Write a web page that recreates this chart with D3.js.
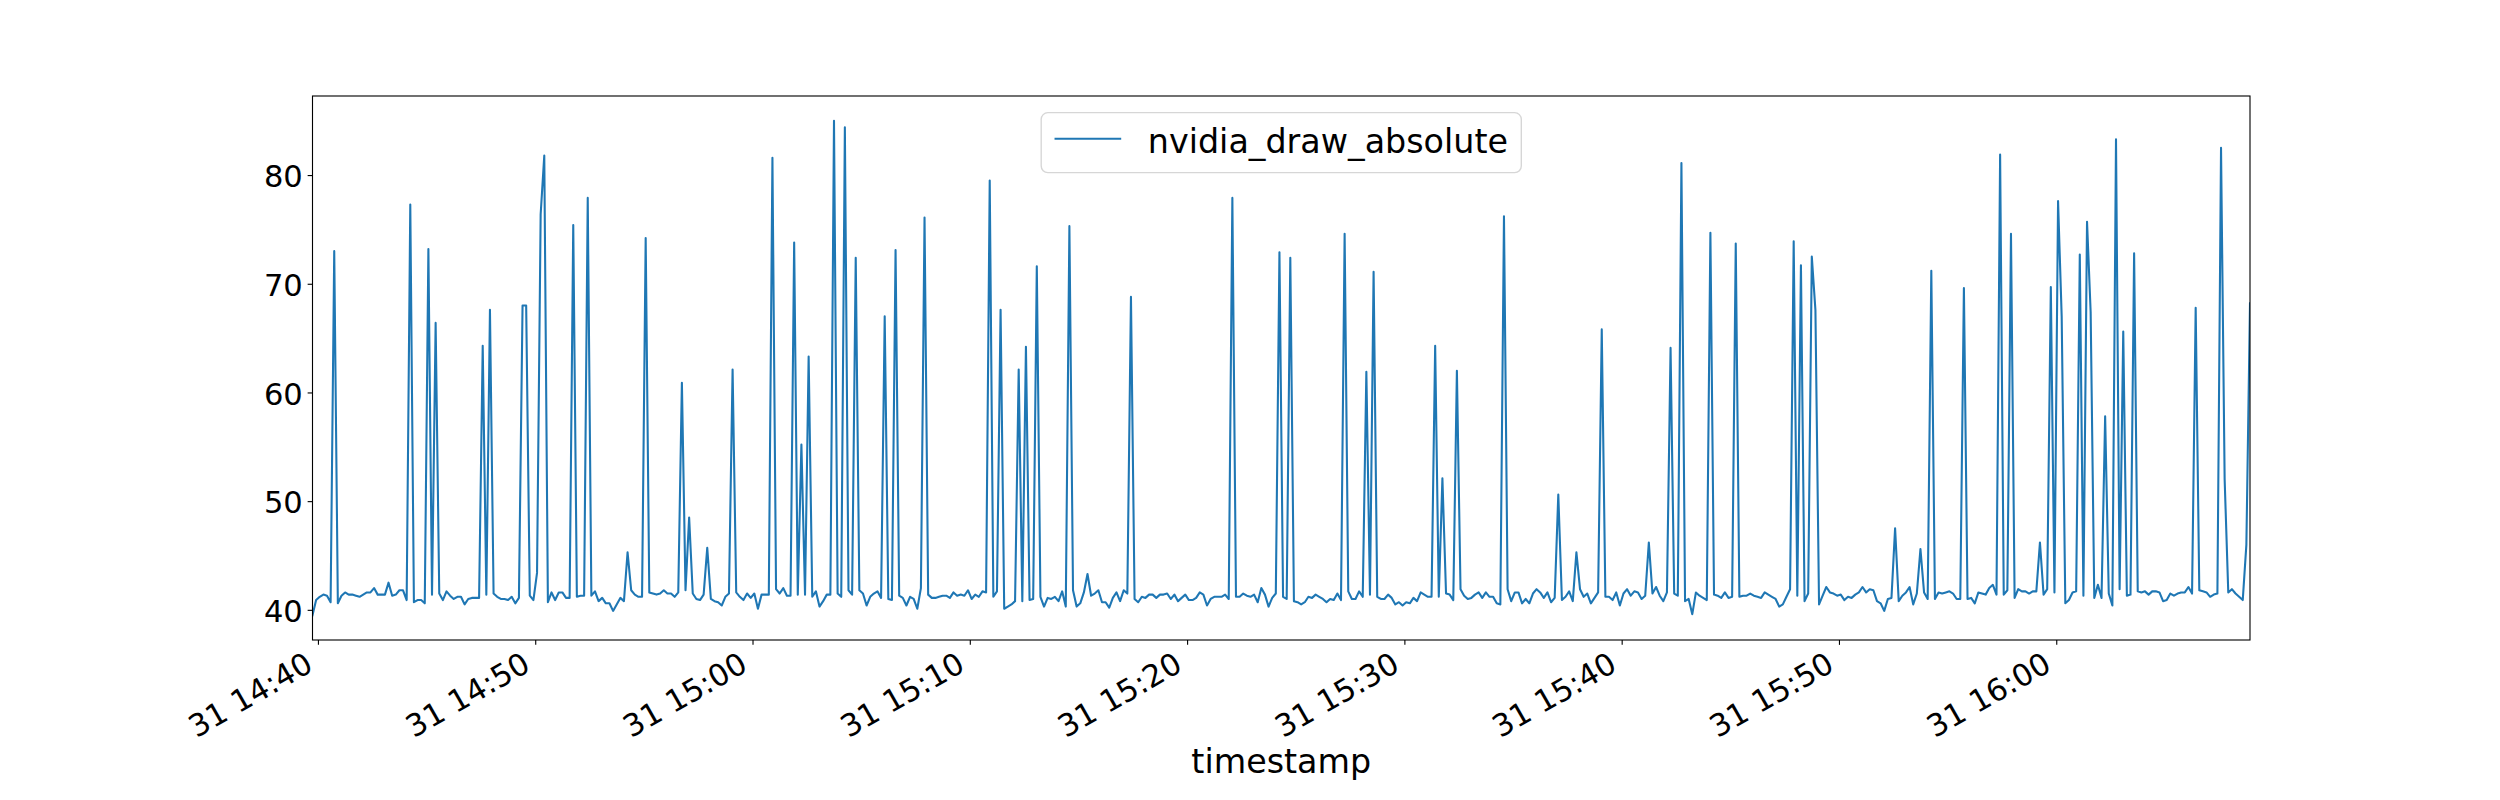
<!DOCTYPE html>
<html>
<head>
<meta charset="utf-8">
<script src="https://cdn.jsdelivr.net/npm/d3@7"></script>
<style>
  body { margin: 0; background: #ffffff; }
  svg { display: block; }
  text { font-family: "DejaVu Sans", sans-serif; fill: #000; }
</style>
</head>
<body>
<svg id="chart" width="2500" height="800"></svg>
<script>
// ---------------- data ----------------
const seriesName = "nvidia_draw_absolute";
const xLabelText = "timestamp";
const startTime = "2023-07-31T14:39:45Z";
const stepSeconds = 10;
const yTickValues = [40, 50, 60, 70, 80];
const xTickEveryMinutes = 10;
const xTickFormat = "%d %H:%M";

const values = [
  39.5, 40.9, 41.2, 41.4, 41.3, 40.7, 73.0, 40.6, 41.3, 41.6,
  41.4, 41.4, 41.3, 41.2, 41.4, 41.6, 41.6, 42.0, 41.4, 41.4,
  41.4, 42.5, 41.3, 41.4, 41.8, 41.8, 40.9, 77.3, 40.7, 40.9,
  40.9, 40.6, 73.2, 41.4, 66.4, 41.5, 40.9, 41.7, 41.3, 41.0,
  41.2, 41.2, 40.5, 41.0, 41.1, 41.1, 41.1, 64.3, 41.4, 67.6,
  41.5, 41.2, 41.0, 41.0, 40.9, 41.2, 40.6, 41.1, 68.0, 68.0,
  41.3, 40.9, 43.4, 76.4, 81.8, 40.7, 41.6, 40.9, 41.6, 41.6,
  41.1, 41.1, 75.4, 41.2, 41.3, 41.3, 77.9, 41.3, 41.7, 40.8,
  41.1, 40.6, 40.6, 39.9, 40.5, 41.1, 40.8, 45.3, 41.8, 41.4,
  41.2, 41.2, 74.2, 41.6, 41.5, 41.4, 41.5, 41.8, 41.5, 41.5,
  41.2, 41.6, 60.9, 41.8, 48.5, 41.5, 41.0, 40.9, 41.4, 45.7,
  41.0, 40.8, 40.7, 40.4, 41.2, 41.5, 62.1, 41.6, 41.2, 40.9,
  41.5, 41.1, 41.5, 40.1, 41.4, 41.4, 41.4, 81.6, 41.9, 41.5,
  42.0, 41.3, 41.3, 73.8, 41.4, 55.2, 41.4, 63.3, 41.2, 41.7,
  40.3, 40.8, 41.4, 41.4, 85.0, 41.5, 41.2, 84.4, 41.8, 41.4,
  72.4, 41.8, 41.5, 40.4, 41.2, 41.5, 41.7, 41.1, 67.0, 41.0,
  40.9, 73.1, 41.3, 41.1, 40.4, 41.2, 41.0, 40.1, 42.0, 76.1,
  41.4, 41.1, 41.1, 41.2, 41.3, 41.3, 41.1, 41.6, 41.3, 41.4,
  41.3, 41.8, 41.0, 41.4, 41.2, 41.7, 41.6, 79.5, 41.2, 41.7,
  67.6, 40.1, 40.3, 40.5, 40.8, 62.1, 40.8, 64.2, 40.9, 41.0,
  71.6, 41.2, 40.3, 41.1, 41.0, 41.2, 40.8, 41.7, 40.3, 75.3,
  41.8, 40.3, 40.6, 41.6, 43.3, 41.3, 41.5, 41.8, 40.7, 40.7,
  40.2, 41.1, 41.6, 40.8, 41.8, 41.5, 68.8, 41.0, 40.7, 41.2,
  41.1, 41.4, 41.4, 41.1, 41.4, 41.4, 41.5, 41.0, 41.4, 40.8,
  41.1, 41.4, 40.9, 40.9, 41.1, 41.6, 41.4, 40.4, 41.0, 41.2,
  41.2, 41.2, 41.4, 41.0, 77.9, 41.2, 41.2, 41.5, 41.3, 41.2,
  41.4, 40.7, 42.0, 41.4, 40.3, 41.1, 41.5, 72.9, 41.2, 41.0,
  72.4, 40.8, 40.7, 40.5, 40.7, 41.2, 41.1, 41.4, 41.2, 41.0,
  40.7, 41.0, 40.9, 41.5, 40.9, 74.6, 41.7, 41.0, 41.0, 41.7,
  41.2, 61.9, 41.4, 71.1, 41.2, 41.0, 41.0, 41.4, 41.1, 40.5,
  40.7, 40.4, 40.7, 40.6, 41.1, 40.8, 41.6, 41.4, 41.2, 41.2,
  64.3, 41.2, 52.1, 41.5, 41.4, 40.9, 62.0, 41.9, 41.3, 41.0,
  41.1, 41.4, 41.6, 41.1, 41.6, 41.2, 41.2, 40.6, 40.5, 76.2,
  41.9, 40.8, 41.6, 41.6, 40.6, 41.0, 40.6, 41.5, 41.9, 41.6,
  41.1, 41.6, 40.7, 41.1, 50.6, 40.9, 41.2, 41.7, 40.8, 45.3,
  41.9, 41.2, 41.5, 40.6, 41.1, 41.6, 65.8, 41.2, 41.2, 40.9,
  41.6, 40.4, 41.5, 41.9, 41.3, 41.7, 41.6, 41.0, 41.3, 46.2,
  41.5, 42.1, 41.3, 40.8, 41.6, 64.1, 41.5, 41.3, 81.1, 40.8,
  41.0, 39.6, 41.6, 41.3, 41.1, 40.9, 74.7, 41.4, 41.3, 41.1,
  41.6, 41.1, 41.2, 73.7, 41.2, 41.3, 41.3, 41.5, 41.3, 41.2,
  41.1, 41.6, 41.4, 41.2, 41.0, 40.3, 40.5, 41.2, 41.9, 73.9,
  41.3, 71.7, 40.8, 41.5, 72.5, 67.6, 40.5, 41.3, 42.1, 41.6,
  41.5, 41.3, 41.4, 40.9, 41.2, 41.1, 41.4, 41.6, 42.1, 41.6,
  41.9, 41.8, 40.8, 40.6, 39.9, 41.0, 41.1, 47.5, 40.8, 41.3,
  41.6, 42.1, 40.5, 41.5, 45.6, 41.6, 41.0, 71.2, 41.0, 41.6,
  41.5, 41.6, 41.7, 41.5, 41.0, 41.0, 69.6, 41.0, 41.1, 40.6,
  41.6, 41.5, 41.4, 42.0, 42.3, 41.4, 81.9, 41.4, 41.8, 74.6,
  41.1, 41.9, 41.7, 41.7, 41.5, 41.7, 41.7, 46.2, 41.4, 41.9,
  69.7, 41.6, 77.6, 67.0, 40.6, 40.9, 41.6, 41.7, 72.7, 41.3,
  75.7, 67.4, 41.1, 42.3, 41.1, 57.8, 41.5, 40.4, 83.3, 41.9,
  65.6, 41.3, 41.4, 72.8, 41.7, 41.6, 41.7, 41.4, 41.7, 41.7,
  41.6, 40.8, 40.9, 41.5, 41.3, 41.5, 41.6, 41.6, 42.1, 41.5,
  67.8, 41.8, 41.7, 41.6, 41.2, 41.4, 41.5, 82.5, 52.0, 41.6,
  41.9, 41.5, 41.2, 40.9, 46.0, 68.2
];

// timestamps: regular sampling from the start time
const t0 = Date.parse(startTime);
const timestamps = values.map((_, i) => new Date(t0 + i * stepSeconds * 1000));
const data = values.map((v, i) => ({ t: timestamps[i], v: v }));

// ---------------- layout (matplotlib-like) ----------------
const W = 2500, H = 800;
const pt = 100 / 72;
const ax = { left: 312.5, right: 2250, top: 96, bottom: 640 };
const tickFont = 22 * pt;
const labelFont = 24 * pt;
const tickLen = 3.5 * pt;
const tickPad = 3.5 * pt;
const spineW = 0.8 * pt;
const lineColor = "#1f77b4";

const svg = d3.select("#chart");
svg.append("rect").attr("width", W).attr("height", H).attr("fill", "#ffffff");

const x = d3.scaleUtc()
  .domain(d3.extent(timestamps))
  .range([ax.left, ax.right]);

const yMin = d3.min(values), yMax = d3.max(values);
const yPad = (yMax - yMin) * 0.05;
const y = d3.scaleLinear()
  .domain([yMin - yPad, yMax + yPad])
  .range([ax.bottom, ax.top]);

// clip
svg.append("defs").append("clipPath").attr("id", "clip")
  .append("rect")
  .attr("x", ax.left).attr("y", ax.top)
  .attr("width", ax.right - ax.left).attr("height", ax.bottom - ax.top);

// line
const line = d3.line().x(d => x(d.t)).y(d => y(d.v));
svg.append("path")
  .datum(data)
  .attr("clip-path", "url(#clip)")
  .attr("fill", "none")
  .attr("stroke", lineColor)
  .attr("stroke-width", 1.5 * pt)
  .attr("stroke-linejoin", "round")
  .attr("stroke-linecap", "square")
  .attr("d", line);

// y axis
const yAxis = svg.append("g")
  .attr("transform", `translate(${ax.left},0)`)
  .call(d3.axisLeft(y).tickValues(yTickValues).tickSize(tickLen).tickPadding(tickPad));
yAxis.select(".domain").remove();
yAxis.selectAll(".tick line").attr("stroke", "#000").attr("stroke-width", spineW);
yAxis.selectAll(".tick text")
  .attr("font-size", tickFont)
  .attr("font-family", "DejaVu Sans")
  .attr("fill", "#000")
  .attr("dy", null)
  .attr("y", 0.38 * tickFont);

// x axis
const xAxis = svg.append("g")
  .attr("transform", `translate(0,${ax.bottom})`)
  .call(d3.axisBottom(x)
    .ticks(d3.utcMinute.every(xTickEveryMinutes))
    .tickFormat(d3.utcFormat(xTickFormat))
    .tickSize(tickLen));
xAxis.select(".domain").remove();
xAxis.selectAll(".tick line").attr("stroke", "#000").attr("stroke-width", spineW);
const asc = 0.76 * tickFont, desc = 0.236 * tickFont;
xAxis.selectAll(".tick text")
  .attr("font-size", tickFont)
  .attr("font-family", "DejaVu Sans")
  .attr("fill", "#000")
  .attr("text-anchor", "end")
  .attr("x", 0).attr("y", 0).attr("dy", null)
  .attr("transform", `translate(${-0.5 * desc},${tickLen + tickPad + 0.866 * asc}) rotate(-30)`);

// x label
svg.append("text")
  .attr("x", (ax.left + ax.right) / 2)
  .attr("y", 773)
  .attr("text-anchor", "middle")
  .attr("font-size", labelFont)
  .text(xLabelText);

// frame (spines)
svg.append("rect")
  .attr("x", ax.left).attr("y", ax.top)
  .attr("width", ax.right - ax.left).attr("height", ax.bottom - ax.top)
  .attr("fill", "none").attr("stroke", "#000").attr("stroke-width", spineW);

// legend
const F = labelFont;
const lg = svg.append("g");
const lgText = lg.append("text")
  .attr("font-size", F)
  .text(seriesName);
const textW = lgText.node().getComputedTextLength();
const bp = 0.4 * F, hl = 2 * F, htp = 0.8 * F;
const lgW = 2 * bp + hl + htp + textW;
const lgH = 60;
const lgX = (ax.left + ax.right) / 2 - lgW / 2;
const lgY = ax.top + 0.5 * F;
lg.insert("rect", "text")
  .attr("x", lgX).attr("y", lgY)
  .attr("width", lgW).attr("height", lgH)
  .attr("rx", 0.2 * F).attr("ry", 0.2 * F)
  .attr("fill", "#ffffff").attr("fill-opacity", 0.8)
  .attr("stroke", "#cccccc").attr("stroke-opacity", 0.8)
  .attr("stroke-width", 1.0 * pt);
lg.insert("line", "text")
  .attr("x1", lgX + bp).attr("x2", lgX + bp + hl)
  .attr("y1", lgY + 26).attr("y2", lgY + 26)
  .attr("stroke", lineColor).attr("stroke-width", 1.5 * pt);
lgText.attr("x", lgX + bp + hl + htp).attr("y", lgY + 40);
</script>
</body>
</html>
